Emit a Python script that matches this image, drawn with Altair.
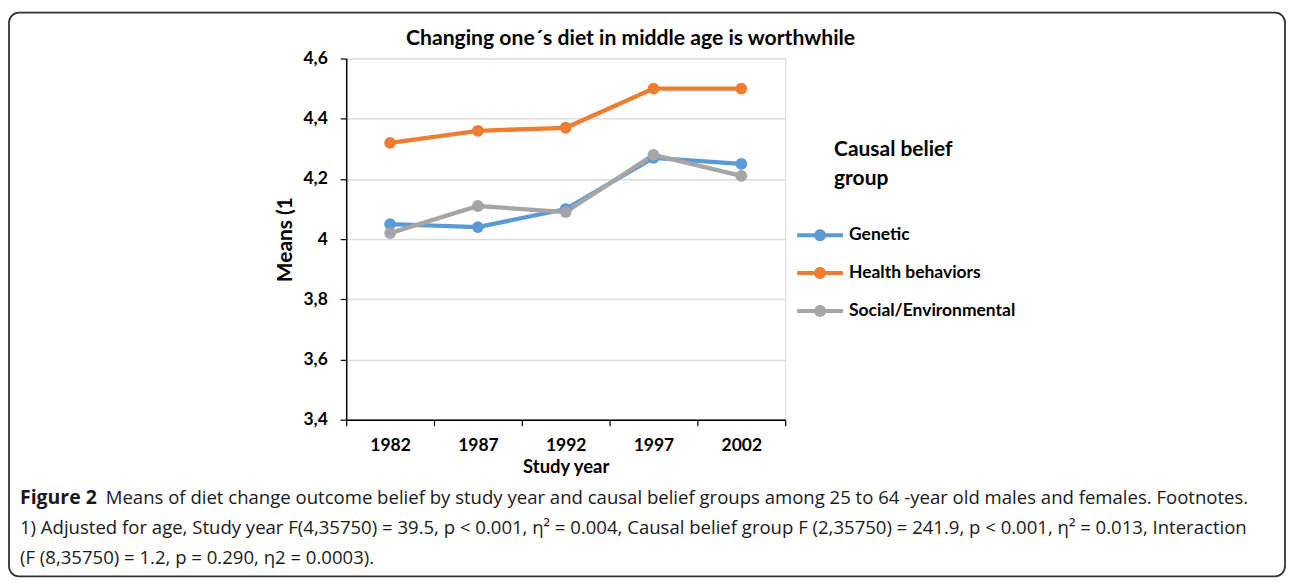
import altair as alt
import pandas as pd

years = ["1982", "1987", "1992", "1997", "2002"]
groups = ["Genetic", "Health behaviors", "Social/Environmental"]
genetic = [4.05, 4.04, 4.10, 4.27, 4.25]
health = [4.32, 4.36, 4.37, 4.50, 4.50]
social = [4.02, 4.11, 4.09, 4.28, 4.21]
colors = ["#5B9BD5", "#ED7D31", "#A5A5A5"]

title_text = "Changing one\u00b4s diet in middle age is worthwhile"
legend_title = ["Causal belief", "group"]
cap_bold = "Figure 2"
cap_line1 = "Means of diet change outcome belief by study year and causal belief groups among 25 to 64 -year old males and females. Footnotes."
cap_line2 = "1) Adjusted for age, Study year F(4,35750) = 39.5, p < 0.001, \u03b7\u00b2 = 0.004, Causal belief group F (2,35750) = 241.9, p < 0.001, \u03b7\u00b2 = 0.013, Interaction"
cap_line3 = "(F (8,35750) = 1.2, p = 0.290, \u03b72 = 0.0003)."

rows = []
for g, vals in zip(groups, [genetic, health, social]):
    for y, v in zip(years, vals):
        rows.append({"year": y, "group": g, "value": v})
df = pd.DataFrame(rows)

FONT = "Lato"
CAPFONT = "Open Sans"
CAPSIZE = 18.6

x_enc = alt.X(
    "year:O",
    bandPosition=0.5,
    sort=years,
    scale=alt.Scale(type="band", paddingInner=0, paddingOuter=0),
    axis=alt.Axis(
        title="Study year", labelAngle=0, tickBand="extent", grid=False,
        domainColor="#000000", domainWidth=1.5, tickColor="#000000", tickWidth=1.2,
        tickSize=6, labelFont=FONT, labelFontSize=17.5, labelFontWeight="bold",
        labelColor="#000000", labelPadding=11, titleFont=FONT, titleFontSize=18.5,
        titleFontWeight="bold", titleColor="#000000", titlePadding=3,
    ),
)
y_enc = alt.Y(
    "value:Q",
    scale=alt.Scale(domain=[3.4, 4.6], nice=False, zero=False),
    axis=alt.Axis(
        title="Means (1", values=[3.4, 3.6, 3.8, 4.0, 4.2, 4.4, 4.6],
        labelExpr="replace(format(datum.value, '~g'), '.', ',')",
        domainColor="#000000", domainWidth=1.5, tickColor="#000000", tickWidth=1.2,
        tickSize=6, gridColor="#d9d9d9", gridWidth=1.3,
        labelFont=FONT, labelFontSize=17.5, labelFontWeight="bold", labelColor="#000000",
        labelPadding=13, titleFont=FONT, titleFontSize=21, titleFontWeight="bold",
        titleColor="#000000", titlePadding=7,
    ),
)

sym_path = ("M-2.3,-0.2L2.3,-0.2L2.3,0.2L-2.3,0.2Z"
            "M-0.6,0A0.6,0.6,0,1,1,0.6,0A0.6,0.6,0,1,1,-0.6,0Z")

color_scale = alt.Scale(domain=groups, range=colors)
legend = alt.Legend(
    title=None, orient="none", legendX=465, legendY=167,
    symbolType=sym_path, symbolSize=400, symbolStrokeWidth=0,
    symbolOpacity=1, labelOffset=19, rowPadding=19, labelLimit=400,
    labelFont=FONT, labelFontSize=17.5, labelFontWeight="bold",
    labelColor="#000000",
)

lines = alt.Chart(df).mark_line(strokeWidth=4.3).encode(
    x=x_enc, y=y_enc,
    color=alt.Color("group:N", scale=color_scale, legend=legend),
)
points = alt.Chart(df).mark_point(filled=True, size=140, opacity=1).encode(
    x=x_enc, y=y_enc,
    color=alt.Color("group:N", scale=color_scale, legend=legend),
)

one = pd.DataFrame({"k": [0]})

title_mark = alt.Chart(one).mark_text(
    text=title_text, align="center", baseline="alphabetic", font=FONT,
    fontSize=21.2, fontWeight="bold", color="#000000",
).encode(x=alt.value(285), y=alt.value(-14))

legend_title_mark = alt.Chart(one).mark_text(
    text=legend_title, align="left", baseline="alphabetic", font=FONT,
    fontSize=21, fontWeight="bold", color="#000000", lineHeight=29,
).encode(x=alt.value(489), y=alt.value(98))

frame = alt.Chart(one).mark_rect(
    fillOpacity=0, stroke="#333333", strokeWidth=1.8, cornerRadius=10,
).encode(x=alt.value(-338), x2=alt.value(941), y=alt.value(-46), y2=alt.value(519))

cap_b = alt.Chart(one).mark_text(
    text=cap_bold, align="left", baseline="alphabetic", font=CAPFONT,
    fontSize=19.5, fontWeight="bold", color="#1a1a1a",
).encode(x=alt.value(-327), y=alt.value(446))
cap1 = alt.Chart(one).mark_text(
    text=cap_line1, align="left", baseline="alphabetic", font=CAPFONT,
    fontSize=CAPSIZE, color="#1a1a1a",
).encode(x=alt.value(-241), y=alt.value(446))
cap2 = alt.Chart(one).mark_text(
    text=cap_line2, align="left", baseline="alphabetic", font=CAPFONT,
    fontSize=CAPSIZE, color="#1a1a1a",
).encode(x=alt.value(-327), y=alt.value(477))
cap3 = alt.Chart(one).mark_text(
    text=cap_line3, align="left", baseline="alphabetic", font=CAPFONT,
    fontSize=CAPSIZE, color="#1a1a1a",
).encode(x=alt.value(-327), y=alt.value(507))

chart = alt.layer(
    frame, lines, points, title_mark, legend_title_mark, cap_b, cap1, cap2, cap3
).properties(
    width=440, height=362,
    autosize=alt.AutoSizeParams(type="none"),
    padding={"left": 339, "top": 50, "right": 503, "bottom": 160},
).configure_view(stroke=None).configure(background="white")

chart.save("out.html", embed_options={"renderer": "svg", "actions": False})
